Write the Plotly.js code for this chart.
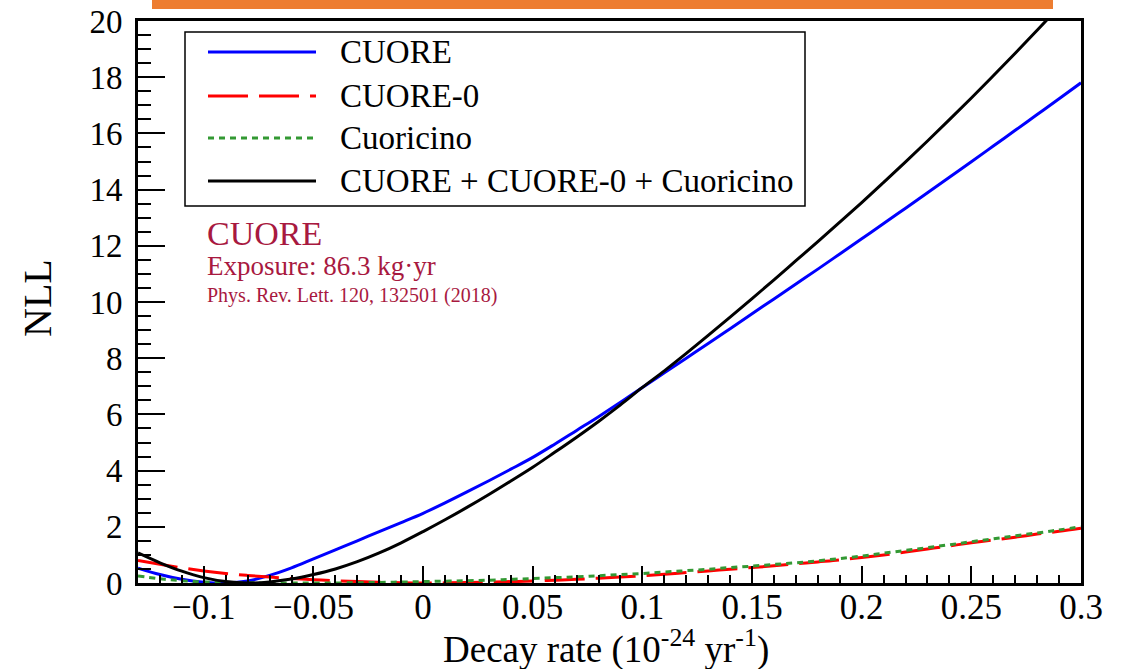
<!DOCTYPE html>
<html>
<head>
<meta charset="utf-8">
<script src="https://cdn.plot.ly/plotly-3.0.1.min.js"></script>
<style>
  html, body { margin: 0; padding: 0; background: #ffffff; }
  #chart { width: 1126px; height: 669px; }
</style>
</head>
<body>
<div id="chart"></div>
<script>
// Decay rate (10^-24 yr^-1), read every 0.01
const decayRate = [-0.13, -0.12, -0.11, -0.10, -0.09, -0.08, -0.07, -0.06, -0.05, -0.04, -0.03, -0.02, -0.01,
                   0.00, 0.01, 0.02, 0.03, 0.04, 0.05, 0.06, 0.07, 0.08, 0.09, 0.10,
                   0.11, 0.12, 0.13, 0.14, 0.15, 0.16, 0.17, 0.18, 0.19, 0.20,
                   0.21, 0.22, 0.23, 0.24, 0.25, 0.26, 0.27, 0.28, 0.29, 0.30];
// NLL curves
const nllCUORE = [0.53, 0.30, 0.13, 0.03, 0.00, 0.07, 0.27, 0.54, 0.86, 1.18, 1.50, 1.83, 2.15,
                  2.48, 2.85, 3.24, 3.64, 4.05, 4.47, 4.94, 5.43, 5.92, 6.43, 6.96,
                  7.48, 8.00, 8.52, 9.05, 9.58, 10.11, 10.64, 11.17, 11.71, 12.25,
                  12.79, 13.34, 13.89, 14.44, 14.99, 15.55, 16.11, 16.67, 17.23, 17.80];
const nllCUORE0 = [0.80, 0.67, 0.54, 0.43, 0.34, 0.27, 0.21, 0.16, 0.12, 0.08, 0.05, 0.03, 0.01,
                   0.00, 0.005, 0.015, 0.03, 0.05, 0.07, 0.10, 0.13, 0.17, 0.21, 0.26,
                   0.31, 0.37, 0.43, 0.49, 0.55, 0.61, 0.68, 0.75, 0.82, 0.91,
                   1.00, 1.10, 1.21, 1.32, 1.43, 1.53, 1.63, 1.74, 1.84, 1.95];
const nllCuoricino = [0.25, 0.15, 0.08, 0.04, 0.02, 0.01, 0.00, 0.00, 0.00, 0.00, 0.01, 0.02, 0.035,
                      0.05, 0.065, 0.08, 0.10, 0.13, 0.16, 0.19, 0.22, 0.26, 0.30, 0.34,
                      0.39, 0.44, 0.49, 0.55, 0.60, 0.66, 0.72, 0.79, 0.87, 0.96,
                      1.06, 1.16, 1.26, 1.36, 1.47, 1.57, 1.68, 1.78, 1.89, 2.00];
const nllCombined = [1.07, 0.72, 0.42, 0.19, 0.05, 0.00, 0.04, 0.14, 0.30, 0.50, 0.76, 1.07, 1.43,
                     1.83, 2.25, 2.69, 3.15, 3.63, 4.12, 4.65, 5.19, 5.75, 6.34, 6.96,
                     7.55, 8.17, 8.81, 9.46, 10.12, 10.79, 11.47, 12.15, 12.84, 13.54,
                     14.26, 14.99, 15.73, 16.49, 17.26, 18.05, 18.85, 19.67, 20.50, 21.35];

const seriesNames = ["CUORE", "CUORE-0", "Cuoricino", "CUORE + CUORE-0 + Cuoricino"];
const seriesColors = ["#0000ff", "#ff0000", "#339933", "#000000"];
const seriesDash = ["solid", "40px,11px", "6px,5px", "solid"];
const seriesData = [nllCUORE, nllCUORE0, nllCuoricino, nllCombined];

const xTitle = "Decay rate (10<sup>-24</sup> yr<sup>-1</sup>)";
const yTitle = "NLL";
const infoLines = ["CUORE", "Exposure: 86.3 kg·yr", "Phys. Rev. Lett. 120, 132501 (2018)"];

const FONT = "Liberation Serif, Times New Roman, serif";
const infoColor = "#a8193f";

const traces = seriesData.map((y, i) => ({
  type: "scatter",
  mode: "lines",
  x: decayRate,
  y: y,
  name: seriesNames[i],
  line: { color: seriesColors[i], width: 3, dash: seriesDash[i], shape: "spline", smoothing: 1 },
  showlegend: false,
  hoverinfo: "skip"
}));

// plot-area pixel geometry helpers (paper coords)
const L = 138, R = 1081, T = 21, B = 583;
const px = v => (v - L) / (R - L);
const py = v => (B - v) / (B - T);

const shapes = [];
const annotations = [];

// orange banner at top
shapes.push({ type: "rect", xref: "paper", yref: "paper",
  x0: px(152), x1: px(1053), y0: py(9), y1: py(-2),
  line: { width: 0 }, fillcolor: "#ed7d31", layer: "above" });

// custom legend box
shapes.push({ type: "rect", xref: "paper", yref: "paper",
  x0: px(185), x1: px(805), y0: py(206), y1: py(32),
  line: { color: "#000000", width: 1.5 }, fillcolor: "rgba(255,255,255,0)", layer: "above" });
const rowY = [52, 96, 138, 181];
seriesNames.forEach((n, i) => {
  shapes.push({ type: "line", xref: "paper", yref: "paper",
    x0: px(208), x1: px(316), y0: py(rowY[i]), y1: py(rowY[i]),
    line: { color: seriesColors[i], width: 3, dash: seriesDash[i] }, layer: "above" });
  annotations.push({ xref: "paper", yref: "paper", x: px(338), y: py(rowY[i]),
    xanchor: "left", yanchor: "middle", showarrow: false, text: n,
    font: { family: FONT, size: 33, color: "#000000" } });
});

// info text
const infoY = [234, 266, 295];
const infoSize = [34, 27, 20];
infoLines.forEach((t, i) => {
  annotations.push({ xref: "paper", yref: "paper", x: px(205), y: py(infoY[i]),
    xanchor: "left", yanchor: "middle", showarrow: false, text: t,
    font: { family: FONT, size: infoSize[i], color: infoColor } });
});

// axis titles placed as annotations for exact position
annotations.push({ xref: "paper", yref: "paper", x: px(606), y: py(647),
  xanchor: "center", yanchor: "middle", showarrow: false, text: xTitle,
  font: { family: FONT, size: 37, color: "#000000" } });
annotations.push({ xref: "paper", yref: "paper", x: px(37), y: py(298),
  xanchor: "center", yanchor: "middle", showarrow: false, text: yTitle, textangle: -90,
  font: { family: FONT, size: 40, color: "#000000" } });

const layout = {
  width: 1126, height: 669,
  margin: { l: L, r: 1126 - R, t: T, b: 669 - B, pad: 0 },
  paper_bgcolor: "#ffffff",
  plot_bgcolor: "#ffffff",
  font: { family: FONT, color: "#000000" },
  showlegend: false,
  xaxis: {
    range: [-0.13, 0.3],
    tick0: 0, dtick: 0.05,
    ticks: "inside", ticklen: 17, tickwidth: 2, tickcolor: "#000000",
    minor: { dtick: 0.01, ticks: "inside", ticklen: 8, tickwidth: 2, tickcolor: "#000000", showgrid: false },
    showgrid: false, zeroline: false,
    showline: true, linecolor: "#000000", linewidth: 3, mirror: true,
    tickfont: { family: FONT, size: 35, color: "#000000" },
    ticklabelstandoff: -9,
    automargin: false
  },
  yaxis: {
    range: [0, 20],
    tick0: 0, dtick: 2,
    ticks: "inside", ticklen: 27, tickwidth: 2, tickcolor: "#000000",
    minor: { dtick: 0.5, ticks: "inside", ticklen: 13, tickwidth: 2, tickcolor: "#000000", showgrid: false },
    showgrid: false, zeroline: false,
    showline: true, linecolor: "#000000", linewidth: 3, mirror: true,
    tickfont: { family: FONT, size: 33, color: "#000000" },
    ticklabelstandoff: 6,
    automargin: false
  },
  shapes: shapes,
  annotations: annotations
};

Plotly.newPlot("chart", traces, layout, { displayModeBar: false, staticPlot: true });
</script>
</body>
</html>
